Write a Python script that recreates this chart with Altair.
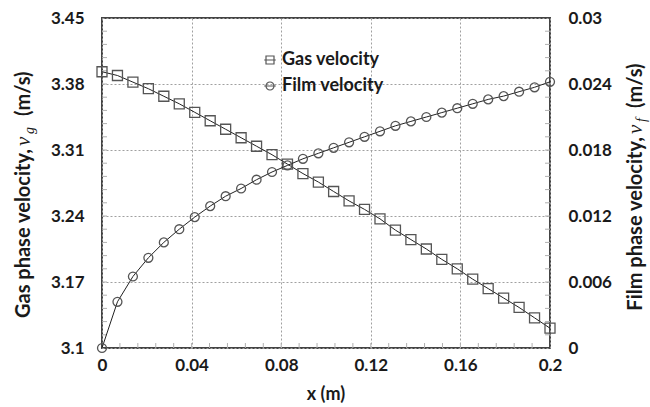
import altair as alt
import pandas as pd

# Axial position along the channel (m)
x_m = [0.0, 0.0069, 0.0138, 0.0207, 0.0276, 0.0345, 0.0414, 0.0483, 0.0552, 0.0621,
       0.0690, 0.0759, 0.0828, 0.0897, 0.0966, 0.1034, 0.1103, 0.1172, 0.1241, 0.1310,
       0.1379, 0.1448, 0.1517, 0.1586, 0.1655, 0.1724, 0.1793, 0.1862, 0.1931, 0.2]

# Gas phase velocity v_g (m/s)
gas_velocity = [3.393, 3.389, 3.382, 3.375, 3.367, 3.359, 3.350, 3.341, 3.332, 3.323,
                3.314, 3.305, 3.295, 3.285, 3.276, 3.266, 3.256, 3.247, 3.237, 3.225,
                3.215, 3.205, 3.194, 3.184, 3.173, 3.163, 3.153, 3.143, 3.132, 3.121]

# Film phase velocity v_f (m/s)
film_velocity = [0.0, 0.0042, 0.0065, 0.0082, 0.0096, 0.0108, 0.0119, 0.0129, 0.0138, 0.0145,
                 0.0153, 0.0160, 0.0166, 0.0172, 0.0177, 0.0182, 0.0187, 0.0192, 0.0197, 0.0202,
                 0.0206, 0.0210, 0.0214, 0.0218, 0.0222, 0.0226, 0.0229, 0.0233, 0.0237, 0.0242]

series_names = ["Gas velocity", "Film velocity"]

x_ticks = [0, 0.04, 0.08, 0.12, 0.16, 0.2]
gas_ticks = [3.1, 3.17, 3.24, 3.31, 3.38, 3.45]
film_ticks = [0, 0.006, 0.012, 0.018, 0.024, 0.03]

# minor (inside) tick positions: five subdivisions per major step
x_minor = [round(0.008 * k, 4) for k in range(1, 25)]
gas_minor = [round(3.1 + 0.014 * k, 4) for k in range(1, 25)]
film_minor = [round(0.0012 * k, 5) for k in range(1, 25)]

W, H = 448, 330
FONT = "Lato"
SERIF = "Liberation Serif"
TXT = "#1a1a1a"
LINE = "#222222"
MARK = "#555555"
MINOR = "#b0b0b0"
TITLE_SIZE = 20

df = pd.DataFrame({"x": x_m, "gas": gas_velocity, "film": film_velocity})

label_style = dict(labelFont=FONT, labelFontWeight="bold", labelFontSize=17, labelColor=TXT,
                   domain=False, ticks=False, labelFlush=False, labelOverlap=False, title=None)
grid_style = dict(grid=True, gridDash=[2, 2], gridColor="#a0a0a0", gridWidth=1)

x_scale = alt.Scale(domain=[0, 0.2], nice=False, zero=False)
gas_scale = alt.Scale(domain=[3.1, 3.45], nice=False, zero=False)
film_scale = alt.Scale(domain=[0, 0.03], nice=False, zero=False)

x_enc = alt.X("x:Q", scale=x_scale,
              axis=alt.Axis(values=x_ticks, format=".2~f", labelPadding=9, **label_style, **grid_style))
gas_enc = alt.Y("gas:Q", scale=gas_scale,
                axis=alt.Axis(values=gas_ticks, format=".2~f", orient="left", labelPadding=18,
                              **label_style, **grid_style))
film_enc = alt.Y("film:Q", scale=film_scale,
                 axis=alt.Axis(values=film_ticks, format=".3~f", orient="right", labelPadding=18,
                               grid=False, **label_style))

# legend symbols: marker with the series line running through it
SQ_PATH = "M-1,-1H1V1H-1Z M-1.45,0H1.45"
CI_PATH = "M-1,0A1,1 0 1,1 1,0A1,1 0 1,1 -1,0Z M-1.45,0H1.45"

legend = alt.Legend(
    title=None, orient="none", legendX=159, legendY=33, padding=0,
    labelFont=FONT, labelFontWeight="bold", labelFontSize=18, labelColor=TXT,
    symbolSize=64, symbolStrokeWidth=1.2, symbolStrokeColor=MARK, symbolFillColor="transparent",
    rowPadding=8, labelOffset=3,
)
shape_scale = alt.Scale(domain=series_names, range=[SQ_PATH, CI_PATH])

base = alt.Chart(df)

gas_line = base.mark_line(color=LINE, strokeWidth=1).encode(x=x_enc, y=gas_enc)
gas_pts = base.mark_point(shape="square", filled=False, size=100, color=MARK,
                          strokeWidth=1.3, opacity=1).encode(x=x_enc, y=gas_enc)

film_line = base.mark_line(color=LINE, strokeWidth=1).encode(x=x_enc, y=film_enc)
film_pts = base.mark_point(shape="circle", filled=False, size=80, color=MARK,
                           strokeWidth=1.3, opacity=1).encode(x=x_enc, y=film_enc)

# legend-only layer (its rows are filtered out, only the legend is drawn)
legend_layer = alt.Chart(pd.DataFrame({"series": series_names})).mark_point(
    filled=False, color=MARK, opacity=1, strokeWidth=1.2
).encode(shape=alt.Shape("series:N", scale=shape_scale, legend=legend)).transform_filter("false")

# inside minor ticks on the left, bottom and right frame edges
gas_minor_ticks = alt.Chart(pd.DataFrame({"gas": gas_minor})).mark_rule(
    color=MINOR, strokeWidth=1).encode(y=gas_enc, x=alt.value(0), x2=alt.value(5))
x_minor_ticks = alt.Chart(pd.DataFrame({"x": x_minor})).mark_rule(
    color=MINOR, strokeWidth=1).encode(x=x_enc, y=alt.value(H - 5), y2=alt.value(H))
film_minor_ticks = alt.Chart(pd.DataFrame({"film": film_minor})).mark_rule(
    color=MINOR, strokeWidth=1).encode(y=film_enc, x=alt.value(W - 5), x2=alt.value(W))


def title_piece(text, x, y, size=TITLE_SIZE, align="left", font=FONT, weight="bold",
                style="normal", angle=270, baseline="alphabetic"):
    return alt.Chart(pd.DataFrame({"t": [text]})).mark_text(
        angle=angle, align=align, baseline=baseline, font=font, fontWeight=weight,
        fontStyle=style, fontSize=size, color=TXT,
    ).encode(text="t:N", x=alt.value(x), y=alt.value(y))


# left axis title: Gas phase velocity, v_g (m/s)
left_title = alt.layer(
    title_piece("Gas phase velocity,", -72, 131, align="right"),
    title_piece("v", -72, 128, size=21, font=SERIF, weight="normal", style="italic"),
    title_piece("g", -68, 116, size=14, font=SERIF, weight="normal", style="italic"),
    title_piece("(m/s)", -72, 98),
)
# right axis title: Film phase velocity, v_f (m/s)
right_title = alt.layer(
    title_piece("Film phase velocity,", W + 92, 119, align="right"),
    title_piece("v", W + 92, 116, size=21, font=SERIF, weight="normal", style="italic"),
    title_piece("f", W + 96, 104, size=14, font=SERIF, weight="normal", style="italic"),
    title_piece("(m/s)", W + 92, 90),
)
x_title = title_piece("x (m)", W / 2, 377, size=18, angle=0, align="center", baseline="middle")

gas_group = alt.layer(gas_minor_ticks, x_minor_ticks, gas_line, gas_pts,
                      legend_layer, left_title, x_title)
film_group = alt.layer(film_minor_ticks, film_line, film_pts, right_title)

chart = alt.layer(gas_group, film_group).resolve_scale(y="independent").properties(
    width=W, height=H, autosize="none",
    padding={"left": 102, "top": 18, "right": 100, "bottom": 59},
    background="white",
).configure_view(stroke="#444444", strokeWidth=2)

chart.save("out.html", embed_options={"renderer": "svg", "actions": False})
